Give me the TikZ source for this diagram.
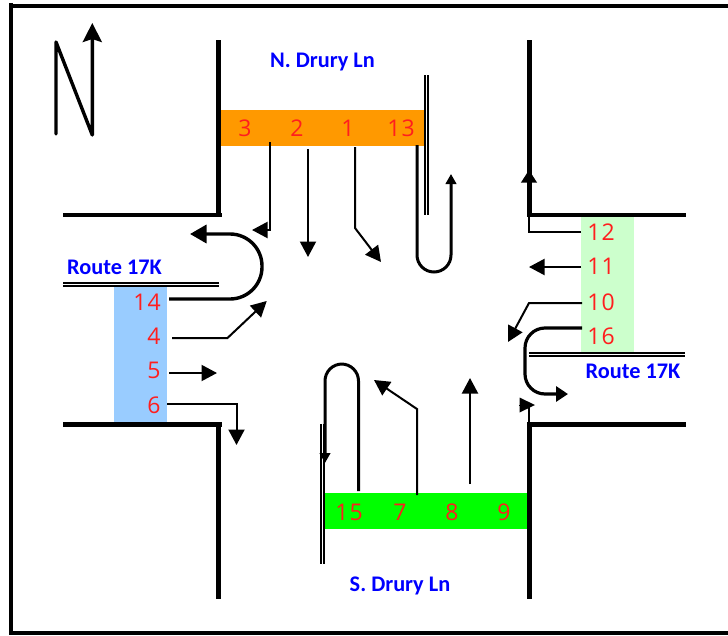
\documentclass[tikz,border=0pt]{standalone}
\usepackage{fontspec}
\setmainfont{Carlito}
\newfontfamily\numfont{Open Sans}
\usetikzlibrary{arrows.meta}
\definecolor{lanered}{RGB}{255,30,30}
\definecolor{labelblue}{RGB}{0,0,255}
\definecolor{northfill}{RGB}{255,153,0}
\definecolor{eastfill}{RGB}{204,255,204}
\definecolor{westfill}{RGB}{153,204,255}
\definecolor{southfill}{RGB}{0,255,0}
\tikzset{
  curb/.style={line width=4.6pt,line cap=butt},
  frameline/.style={line width=3.8pt},
  median/.style={double=white,draw=black,line width=1.5pt,double distance=1.6pt},
  lane/.style={font=\numfont\fontsize{23}{23}\selectfont\addfontfeature{LetterSpace=5},text=lanered,inner sep=0pt},
  road/.style={font=\bfseries\fontsize{22.3}{22.3}\selectfont,text=labelblue,inner sep=0pt},
  move/.style={line width=2pt,-{Triangle[length=15.5pt,width=16pt]}},
  uturn/.style={line width=3.2pt,rounded corners=20pt,-{Triangle[length=12pt,width=15pt]}},
  inner/.style={line width=3pt,rounded corners=17pt,-{Triangle[length=10pt,width=10.5pt]}},
}
\begin{document}
\begin{tikzpicture}[x=1pt,y=-1pt]
\useasboundingbox (0,0) rectangle (728,635);
% frame
\draw[frameline] (728,6) -- (11,6);
\draw[frameline] (11,3) -- (11,633) -- (728,633);
% approach bands
\fill[northfill] (221,110) rectangle (426,146);
\fill[eastfill] (581,217) rectangle (634,353);
\fill[westfill] (114,284) rectangle (167,422);
\fill[southfill] (321,493) rectangle (527,529);
% curbs
\draw[curb] (218.5,40) -- (218.5,217.3);
\draw[curb] (63,215) -- (222,215);
\draw[curb] (529.3,40) -- (529.3,217.3);
\draw[curb] (527,215) -- (686,215);
\draw[curb] (63,424.3) -- (222,424.3);
\draw[curb] (218.5,422) -- (218.5,599);
\draw[curb] (529.3,422) -- (529.3,599);
\draw[curb] (527,424.3) -- (686,424.3);
% medians
\draw[median] (426.3,75) -- (426.3,215);
\draw[median] (63,284.3) -- (219,284.3);
\draw[median] (529,354.5) -- (685,354.5);
\draw[median] (322.5,424) -- (322.5,564);
% labels
\node[road] (north) at (322.5,62.5) {N. Drury Ln};
\node[road] (south) at (400,585.5) {S. Drury Ln};
\node[road] (west) at (114.5,267.5) {Route 17K};
\node[road] (east) at (633,371.5) {Route 17K};
\node[lane] (l3) at (245,128) {3};
\node[lane] (l2) at (297,128) {2};
\node[lane] (l1) at (348,128) {1};
\node[lane] (l13) at (401,128) {13};
\node[lane] (l12) at (601,232) {12};
\node[lane] (l11) at (601,266) {11};
\node[lane] (l10) at (601,302) {10};
\node[lane] (l16) at (601,336) {16};
\node[lane] (l14) at (147,302) {14};
\node[lane] (l4) at (154,336) {4};
\node[lane] (l5) at (154,370) {5};
\node[lane] (l6) at (154,405) {6};
\node[lane] (l15) at (349,512) {15};
\node[lane] (l7) at (400,512) {7};
\node[lane] (l8) at (452,512) {8};
\node[lane] (l9) at (504,512) {9};
% end points
\coordinate (s3) at (269.5,142);  \coordinate (b3) at (269.5,230);  \coordinate (e3) at (252,230);
\coordinate (s2) at (308,149);    \coordinate (e2) at (308,257);
\coordinate (s1) at (355,147);    \coordinate (b1) at (355,228);    \coordinate (e1) at (381,262);
\coordinate (s13) at (417,145);   \coordinate (b13a) at (417,272);  \coordinate (b13b) at (451,272); \coordinate (e13) at (451,174);
\coordinate (s12) at (581,232);   \coordinate (b12) at (529,232);   \coordinate (e12) at (529,170);
\coordinate (s11) at (581,267);   \coordinate (e11) at (529,267);
\coordinate (s10) at (582,303);   \coordinate (b10) at (529,303);   \coordinate (e10) at (508,342);
\coordinate (s16) at (582,328);   \coordinate (b16a) at (525,328);  \coordinate (b16b) at (525,394); \coordinate (e16) at (568,394);
\coordinate (s14) at (169,299);   \coordinate (b14a) at (262,299);  \coordinate (b14b) at (262,234); \coordinate (e14) at (190,234);
\coordinate (s4) at (172,338);    \coordinate (b4) at (227.5,338);  \coordinate (e4) at (266.7,301);
\coordinate (s5) at (169,373);    \coordinate (e5) at (217,373);
\coordinate (s6) at (167,404);    \coordinate (b6) at (236.5,404);  \coordinate (e6) at (236.5,445);
\coordinate (s15) at (358.5,491); \coordinate (b15a) at (358.5,364);\coordinate (b15b) at (325,364); \coordinate (e15) at (325,463);
\coordinate (s7) at (417,495);    \coordinate (b7) at (417,409);    \coordinate (e7) at (374,380);
\coordinate (s8) at (470,484);    \coordinate (e8) at (470,378);
\coordinate (s9) at (529,422);    \coordinate (b9) at (529,405);    \coordinate (e9) at (535,405);
% movements
\draw[move] (s3) -- (b3) -- (e3);
\draw[move] (s2) -- (e2);
\draw[move] (s1) -- (b1) -- (e1);
\draw[inner] (s13) -- (b13a) -- (b13b) -- (e13);
\draw[move,-{Triangle[length=12.5pt,width=15.5pt]}] (s12) -- (b12) -- (e12);
\draw[move] (s11) -- (e11);
\draw[move] (s10) -- (b10) -- (e10);
\draw[uturn] (s16) -- (b16a) -- (b16b) -- (e16);
\draw[uturn,line width=3.4pt,rounded corners=32pt,-{Triangle[length=16.5pt,width=18pt]}] (s14) -- (b14a) -- (b14b) -- (e14);
\draw[move] (s4) -- (b4) -- (e4);
\draw[move] (s5) -- (e5);
\draw[move] (s6) -- (b6) -- (e6);
\draw[inner] (s15) -- (b15a) -- (b15b) -- (e15);
\draw[move] (s7) -- (b7) -- (e7);
\draw[move] (s8) -- (e8);
\draw[line width=1.5pt] (s9) -- (b9);
\draw[move,line width=0pt,-{Triangle[length=15.5pt,width=15pt]}] ([xshift=-15.4pt]e9) -- (e9);
% north sign
\coordinate (n1) at (56,134); \coordinate (n2) at (56,42); \coordinate (n3) at (92.3,135); \coordinate (n4) at (92.3,23);
\draw[line width=3.4pt,line join=round,line cap=round,-{Stealth[length=19pt,width=19pt,inset=3pt]}] (n1) -- (n2) -- (n3) -- (n4);
\end{tikzpicture}
\end{document}
